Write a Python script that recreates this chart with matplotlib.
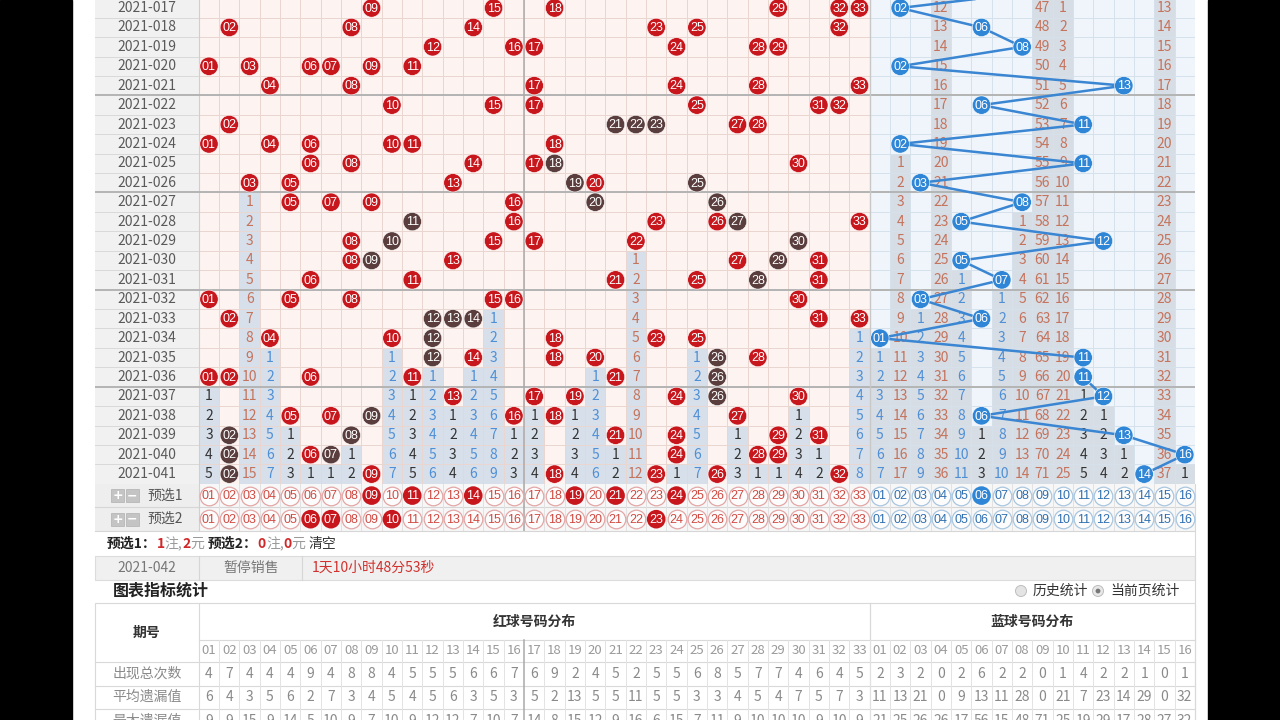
import matplotlib
matplotlib.use("Agg")
import matplotlib.pyplot as plt
from matplotlib.patches import Rectangle, Circle

plt.rcParams['font.family'] = ['Noto Sans CJK SC', 'DejaVu Sans']

# ---------------- data ----------------
periods = ["2021-017", "2021-018", "2021-019", "2021-020", "2021-021",
           "2021-022", "2021-023", "2021-024", "2021-025", "2021-026",
           "2021-027", "2021-028", "2021-029", "2021-030", "2021-031",
           "2021-032", "2021-033", "2021-034", "2021-035", "2021-036",
           "2021-037", "2021-038", "2021-039", "2021-040", "2021-041"]

red_draws = [
    [9, 15, 18, 29, 32, 33], [2, 8, 14, 23, 25, 32], [12, 16, 17, 24, 28, 29],
    [1, 3, 6, 7, 9, 11], [4, 8, 17, 24, 28, 33], [10, 15, 17, 25, 31, 32],
    [2, 21, 22, 23, 27, 28], [1, 4, 6, 10, 11, 18], [6, 8, 14, 17, 18, 30],
    [3, 5, 13, 19, 20, 25], [5, 7, 9, 16, 20, 26], [11, 16, 23, 26, 27, 33],
    [8, 10, 15, 17, 22, 30], [8, 9, 13, 27, 29, 31], [6, 11, 21, 25, 28, 31],
    [1, 5, 8, 15, 16, 30], [2, 12, 13, 14, 31, 33], [4, 10, 12, 18, 23, 25],
    [12, 14, 18, 20, 26, 28], [1, 2, 6, 11, 21, 26], [13, 17, 19, 24, 26, 30],
    [5, 7, 9, 16, 18, 27], [2, 8, 21, 24, 29, 31], [2, 6, 7, 24, 28, 29],
    [2, 9, 18, 23, 26, 32]]

dark_balls = [[], [], [], [], [], [], [21, 22, 23], [], [18], [19, 25],
              [20, 26], [11, 27], [10, 30], [9, 29], [28], [], [12, 13, 14],
              [12], [12, 26], [26], [26], [9], [2, 8], [2, 7], [2]]

blue_draws = [2, 6, 8, 2, 13, 6, 11, 2, 11, 3, 8, 5, 12, 5, 7, 3, 6, 1, 11,
              11, 12, 6, 13, 16, 14]
blue_prev = 10                       # 2021-016 blue ball
blue_miss_before = {4: 11, 9: 46, 10: 0, 15: 12}
red_miss_before = {}

pre1_red = [9, 11, 14, 19, 21, 24]
pre1_blue = [6]
pre2_red = [6, 7, 10, 23]
pre2_blue = []

stat_labels = ["出现总次数", "平均遗漏值", "最大遗漏值"]
stat_total_red = [4, 7, 4, 4, 4, 9, 4, 8, 8, 4, 5, 5, 5, 6, 6, 7, 6, 9, 2, 4, 5,
                  2, 5, 5, 6, 8, 5, 7, 7, 4, 6, 4, 5]
stat_total_blue = [2, 3, 2, 0, 2, 6, 2, 2, 0, 1, 4, 2, 2, 1, 0, 1]
stat_avg_red = [6, 4, 3, 5, 6, 2, 7, 3, 4, 5, 4, 5, 6, 3, 5, 3, 5, 2, 13, 5, 5,
                11, 5, 5, 3, 3, 4, 5, 4, 7, 5, 7, 3]
stat_avg_blue = [11, 13, 21, 0, 9, 13, 11, 28, 0, 21, 7, 23, 14, 29, 0, 32]
stat_max_red = [9, 9, 15, 9, 14, 5, 10, 9, 7, 10, 9, 12, 12, 7, 10, 7, 14, 8, 15,
                12, 9, 16, 6, 15, 7, 11, 9, 10, 10, 10, 9, 10, 9]
stat_max_blue = [21, 25, 26, 26, 17, 56, 15, 48, 71, 25, 19, 29, 17, 28, 27, 32]

# ---------------- layout ----------------
W, H = 1280, 720
XL = 95.0          # left of label column
X0 = 198.8         # left of red column 01
CW = 20.33         # column width
NR, NB = 33, 16
NC = NR + NB
XR = X0 + NC * CW
RH = 19.42
Y0 = -1.71         # top of first row (2021-017)
YB = Y0 + len(periods) * RH

RED = '#c8161d'
DARK = '#5a3d3d'
BLUE = '#2f86d6'
C_BLACK, C_BLUE, C_BROWN = '#333333', '#4f8fd6', '#c4735c'

fig = plt.figure(figsize=(12.8, 7.2), dpi=100)
fig.patch.set_facecolor('white')

pa = fig.add_axes([0, 0, 1, 1])
pa.set_xlim(0, W)
pa.set_ylim(H, 0)
pa.axis('off')
pa.add_patch(Rectangle((0, 0), 72, H, color='black', zorder=0))
pa.add_patch(Rectangle((1208, 0), 72, H, color='black', zorder=0))


def cx(c):
    return X0 + (c + 0.5) * CW


# ---------------- trend grid axes (data coords: column, row) ----------------
top_px = Y0 - RH
ga = fig.add_axes([XL / W, 1 - YB / H, (XR - XL) / W, (YB - top_px) / H])
xl_data = -0.5 - (X0 - XL) / CW
ga.set_xlim(xl_data, NC - 0.5)
ga.set_ylim(len(periods) - 0.5, -1.5)
ga.axis('off')
nrow = len(periods)

ga.add_patch(Rectangle((xl_data, -1.5), -0.5 - xl_data, nrow + 1, fc='#f1f1f1', ec='none', zorder=0))
ga.add_patch(Rectangle((-0.5, -1.5), NR, nrow + 1, fc='#fdf3f0', ec='none', zorder=0))
ga.add_patch(Rectangle((NR - 0.5, -1.5), NB, nrow + 1, fc='#eff5fb', ec='none', zorder=0))


def trailing(draw_lists, ncols, prior):
    res = []
    for k in range(1, ncols + 1):
        hits = [i for i, d in enumerate(draw_lists) if k in d]
        if hits:
            start, base = hits[-1] + 1, 0
        elif k in prior:
            start, base = 0, prior[k]
        else:
            continue
        n = len(draw_lists) - start
        for i in range(start, len(draw_lists)):
            res.append((k, i, base + i - start + 1, n))
    return res


def miss_color(n):
    if n <= 5:
        return C_BLACK
    if n <= 11:
        return C_BLUE
    return C_BROWN


red_trail = trailing(red_draws, NR, red_miss_before)
blue_trail = trailing([[b] for b in blue_draws], NB, blue_miss_before)

for k, i, v, n in red_trail:
    c = k - 1
    ga.add_patch(Rectangle((c - 0.5, i - 0.5), 1, 1, fc='#d7e0ea', ec='none', zorder=1))
    ga.text(c, i, str(v), ha='center', va='center', fontsize=10, color=miss_color(n), zorder=3)
for k, i, v, n in blue_trail:
    c = NR + k - 1
    ga.add_patch(Rectangle((c - 0.5, i - 0.5), 1, 1, fc='#d7dde5', ec='none', zorder=1))
    ga.text(c, i, str(v), ha='center', va='center', fontsize=10, color=miss_color(n), zorder=3)

# grid lines
for r in range(-1, nrow):
    y = r + 0.5
    ga.plot([xl_data, -0.5], [y, y], color='#d9d9d9', lw=0.7, zorder=2)
    ga.plot([-0.5, NR - 0.5], [y, y], color='#ead6d1', lw=0.7, zorder=2)
    ga.plot([NR - 0.5, NC - 0.5], [y, y], color='#d5e1eb', lw=0.7, zorder=2)
for c in range(NR - 1):
    ga.plot([c + 0.5, c + 0.5], [-1.5, nrow - 0.5], color='#ead6d1', lw=0.7, zorder=2)
for c in range(NR, NC - 1):
    ga.plot([c + 0.5, c + 0.5], [-1.5, nrow - 0.5], color='#d5e1eb', lw=0.7, zorder=2)
ga.plot([-0.5, -0.5], [-1.5, nrow - 0.5], color='#cfcfcf', lw=0.8, zorder=2)
for y in [-0.5, 4.5, 9.5, 14.5, 19.5]:
    ga.plot([xl_data, NC - 0.5], [y, y], color='#b4b4b4', lw=1.4, zorder=2.5)
ga.plot([15.5, 15.5], [-1.5, nrow - 0.5], color='#aaaaaa', lw=1.1, zorder=2.5)
ga.plot([NR - 0.5, NR - 0.5], [-1.5, nrow - 0.5], color='#c8c8c8', lw=1.0, zorder=2.5)

for i, p in enumerate(periods):
    ga.text((xl_data - 0.5) / 2, i, p, ha='center', va='center', fontsize=10, color='#5a5a5a', zorder=3)

# blue ball connecting line
line_x = [NR + blue_prev - 1] + [NR + b - 1 for b in blue_draws]
line_y = list(range(-1, nrow))
ga.plot(line_x, line_y, color='#3a86d2', lw=1.8, zorder=4, solid_capstyle='round')

# balls
BALL_S = 175
bx, by, bc, bt = [], [], [], []
for i, draw in enumerate(red_draws):
    for k in draw:
        bx.append(k - 1)
        by.append(i)
        bc.append(DARK if k in dark_balls[i] else RED)
        bt.append(k)
for i, b in enumerate(blue_draws):
    bx.append(NR + b - 1)
    by.append(i)
    bc.append(BLUE)
    bt.append(b)
ga.scatter(bx, by, s=BALL_S, c=bc, edgecolors='white', linewidths=0.4, zorder=5)
for x, y, t in zip(bx, by, bt):
    ga.text(x, y + 0.04, f"{t:02d}", ha='center', va='center', fontsize=9,
            family='Liberation Sans', color='white', zorder=6)

# ---------------- preselect rows ----------------
pre_rows = [(YB, YB + 23.6), (YB + 23.6, YB + 47.2)]
pre_labels = ["预选1", "预选2"]
for (t, b), lab, reds, blues in zip(pre_rows, pre_labels, [pre1_red, pre2_red], [pre1_blue, pre2_blue]):
    yc = (t + b) / 2
    pa.add_patch(Rectangle((XL, t), X0 - XL, b - t, fc='#eeeeee', ec='none', zorder=1))
    pa.add_patch(Rectangle((X0, t), XR - X0, b - t, fc='#f7f7f7', ec='none', zorder=1))
    for c in range(1, NC):
        pa.plot([X0 + c * CW] * 2, [t, b], color='#e2e2e2', lw=0.7, zorder=2)
    pa.plot([X0, X0], [t, b], color='#d0d0d0', lw=0.8, zorder=2)
    pa.plot([X0 + 16 * CW] * 2, [t, b], color='#aaaaaa', lw=1.1, zorder=2)
    pa.plot([XL, XR], [b, b], color='#d6d6d6', lw=0.8, zorder=2)
    # +/- icons
    for j, sym in enumerate(['+', '−']):
        x0i = 111 + j * 14.5
        pa.add_patch(Rectangle((x0i, yc - 6.5), 13, 13, fc='#c4c4c4', ec='#b0b0b0', lw=0.5, zorder=3))
        pa.text(x0i + 6.5, yc, sym, ha='center', va='center', fontsize=9, color='white',
                fontweight='bold', family='DejaVu Sans', zorder=4)
    pa.text(147, yc, lab, ha='left', va='center', fontsize=10, color='#555555', zorder=3)
    for k in range(1, NC + 1):
        is_red = k <= NR
        num = k if is_red else k - NR
        sel = (num in reds) if is_red else (num in blues)
        x = cx(k - 1)
        if sel:
            fc, ec, tc = (RED if is_red else BLUE), 'none', 'white'
        else:
            fc, ec, tc = '#fcfcfc', ('#e3a6a6' if is_red else '#a9c6e0'), ('#cf4a42' if is_red else '#2f6fb0')
        pa.scatter([x], [yc], s=180, facecolors=fc, edgecolors=ec, linewidths=0.9, zorder=4)
        pa.text(x, yc + 0.5, f"{num:02d}", ha='center', va='center', fontsize=9,
                family='Liberation Sans', color=tc, zorder=5)

# ---------------- summary text line ----------------
ytxt = 544
parts = [("预选1：", '#222222', 'bold'), ("1", '#d02828', 'bold'), ("注,", '#9a9a9a', 'normal'),
         ("2", '#d02828', 'bold'), ("元 ", '#9a9a9a', 'normal'), ("预选2：", '#222222', 'bold'),
         ("0", '#d02828', 'bold'), ("注,", '#9a9a9a', 'normal'), ("0", '#d02828', 'bold'),
         ("元 ", '#9a9a9a', 'normal'), ("清空", '#333333', 'normal')]
prev = None
for txt, col, wt in parts:
    if prev is None:
        prev = pa.text(107, ytxt, txt, ha='left', va='center', fontsize=10, color=col, fontweight=wt)
    else:
        prev = pa.annotate(txt, xy=(1, 0.5), xycoords=prev, ha='left', va='center',
                           fontsize=10, color=col, fontweight=wt)

# ---------------- sale row ----------------
st, sb = 556, 580
pa.add_patch(Rectangle((XL, st), XR - XL, sb - st, fc='#f0f0f0', ec='#dcdcdc', lw=0.8, zorder=1))
pa.plot([X0, X0], [st, sb], color='#d6d6d6', lw=0.8, zorder=2)
pa.plot([302, 302], [st, sb], color='#d6d6d6', lw=0.8, zorder=2)
pa.text((XL + X0) / 2, (st + sb) / 2, "2021-042", ha='center', va='center', fontsize=10, color='#777777')
pa.text(251, (st + sb) / 2, "暂停销售", ha='center', va='center', fontsize=10, color='#777777')
pa.text(312, (st + sb) / 2, "1天10小时48分53秒", ha='left', va='center', fontsize=10, color='#d0312d')

# ---------------- title row ----------------
pa.text(113, 591, "图表指标统计", ha='left', va='center', fontsize=11.5, fontweight='bold', color='#222222')
pa.add_patch(Circle((1021, 591), 5.5, fc='#e4e4e4', ec='#bdbdbd', lw=0.7, zorder=3))
pa.text(1033, 591, "历史统计", ha='left', va='center', fontsize=10, color='#333333')
pa.add_patch(Circle((1098, 591), 5.5, fc='#e8e8e8', ec='#bdbdbd', lw=0.7, zorder=3))
pa.add_patch(Circle((1098, 591), 2.4, fc='#777777', ec='none', zorder=4))
pa.text(1110, 591, "当前页统计", ha='left', va='center', fontsize=10, color='#333333')

# ---------------- stats table ----------------
tt = 603
h1, h2 = 640, 662
row_edges = [662, 685.5, 709, 732.5]
LC = '#d9d9d9'
pa.add_patch(Rectangle((XL, tt), XR - XL, 140, fc='white', ec=LC, lw=0.8, zorder=1))
pa.plot([X0, X0], [tt, 740], color=LC, lw=0.8, zorder=2)
pa.plot([X0 + NR * CW] * 2, [tt, 740], color=LC, lw=0.9, zorder=2)
pa.plot([X0, XR], [h1, h1], color=LC, lw=0.8, zorder=2)
pa.plot([XL, XR], [h2, h2], color=LC, lw=0.8, zorder=2)
for y in row_edges[1:]:
    pa.plot([XL, XR], [y, y], color=LC, lw=0.8, zorder=2)
for c in range(1, NC):
    col = '#aaaaaa' if c == 16 else '#e3e3e3'
    pa.plot([X0 + c * CW] * 2, [h1, 740], color=col, lw=1.1 if c == 16 else 0.7, zorder=2)
pa.text((XL + X0) / 2, (tt + h2) / 2, "期号", ha='center', va='center', fontsize=10,
        fontweight='bold', color='#333333')
pa.text(X0 + NR * CW / 2, (tt + h1) / 2 + 0.5, "红球号码分布", ha='center', va='center',
        fontsize=10, fontweight='bold', color='#333333')
pa.text(X0 + NR * CW + NB * CW / 2, (tt + h1) / 2 + 0.5, "蓝球号码分布", ha='center', va='center',
        fontsize=10, fontweight='bold', color='#333333')
for k in range(NC):
    num = k + 1 if k < NR else k - NR + 1
    pa.text(cx(k), (h1 + h2) / 2, f"{num:02d}", ha='center', va='center', fontsize=9.5, color='#9a9a9a')

stat_rows = [stat_total_red + stat_total_blue, stat_avg_red + stat_avg_blue, stat_max_red + stat_max_blue]
for j, (lab, vals) in enumerate(zip(stat_labels, stat_rows)):
    yc = (row_edges[j] + row_edges[j + 1]) / 2
    pa.text((XL + X0) / 2, yc, lab, ha='center', va='center', fontsize=10, color='#8a8a8a')
    for k, v in enumerate(vals):
        pa.text(cx(k), yc, str(v), ha='center', va='center', fontsize=10, color='#8a8a8a')

pa.plot([XR, XR], [YB, 720], color='#d9d9d9', lw=0.8, zorder=2)

fig.savefig("out.png", dpi=100)
